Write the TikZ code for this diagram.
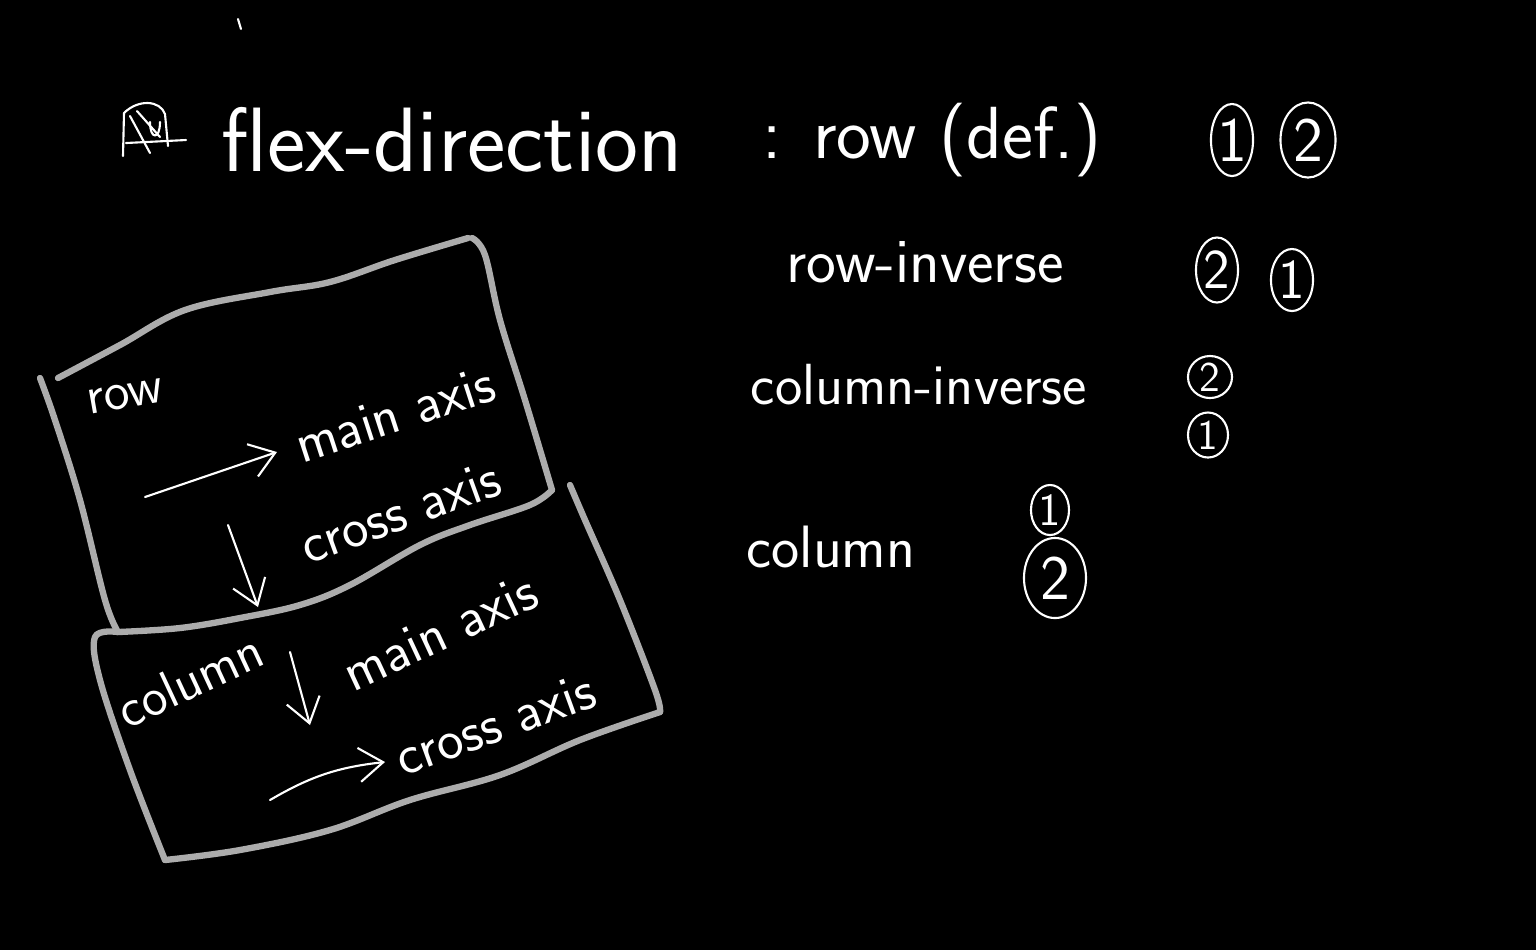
\documentclass[tikz,border=0pt]{standalone}
\usetikzlibrary{arrows.meta, shapes.geometric}
\tikzset{
	hand/.style={text=white, inner sep=0pt, font=\sffamily\fontsize{#1}{#1}\selectfont},
	penline/.style={draw=white, line width=0.6pt, line cap=round, line join=round},
	penarrow/.style={penline, -{Straight Barb[length=2.4mm, width=3.4mm]}},
	boxline/.style={draw=gray!65, line width=1.8pt, line cap=round, line join=round},
	numring/.style={ellipse, draw=white, line width=0.6pt, text=white, inner sep=0pt,
		font=\sffamily\fontsize{#1}{#1}\selectfont}
}

\begin{document}
\begin{tikzpicture}[x=0.01cm, y=-0.01cm]
	\fill[black] (0,0) rectangle (1536,950);
	\useasboundingbox (0,0) rectangle (1536,950);
	
	% stray pen mark and title mark
	\draw[penline] (238,19) -- (241,29);
	\draw[penline] (123,156) -- (124,113) .. controls (138,99) and (160,100) .. (165,114) -- (168,146);
	\draw[penline] (126,143) -- (186,140);
	\draw[penline] (130,116) -- (150,153);
	\draw[penline] (137,111) -- (160,137);
	\draw[penline] (150,122) .. controls (150,140) and (160,140) .. (160,122);
	
	% title line
	\node[hand=26] (title) at (452,140) {flex-direction};
	\node[hand=21] (modeRow) at (932,140) {: row (def.)};
	\node[numring=18, minimum width=0.38cm, minimum height=0.72cm] (rowA) at (1232,140) {1};
	\node[numring=18, minimum width=0.55cm, minimum height=0.75cm] (rowB) at (1308,140) {2};
	
	% other values
	\node[hand=18] (modeRowInv) at (925,262) {row-inverse};
	\node[numring=16, minimum width=0.42cm, minimum height=0.65cm] (rowInvB) at (1217,270) {2};
	\node[numring=16, minimum width=0.42cm, minimum height=0.62cm] (rowInvA) at (1292,280) {1};
	
	\node[hand=16.5] (modeColInv) at (919,385) {column-inverse};
	\node[numring=12, minimum width=0.44cm, minimum height=0.42cm] (colInvB) at (1210,377) {2};
	\node[numring=12, minimum width=0.40cm, minimum height=0.45cm] (colInvA) at (1208,435) {1};
	
	\node[hand=17] (modeCol) at (831,547) {column};
	\node[numring=13, minimum width=0.38cm, minimum height=0.50cm] (colA) at (1050,510) {1};
	\node[numring=18, minimum width=0.62cm, minimum height=0.80cm] (colB) at (1055,578) {2};
	
	% row box
	\draw[boxline] plot[smooth, tension=0.6] coordinates {(58,378) (120,345) (185,310) (270,292) (330,282) (395,260) (468,238)};
	\draw[boxline] plot[smooth, tension=0.6] coordinates {(472,238) (485,255) (500,320) (525,400) (552,490)};
	\draw[boxline] plot[smooth, tension=0.6] coordinates {(552,490) (530,505) (470,525) (420,545) (350,585) (300,605) (240,618) (180,628) (118,632)};
	\draw[boxline] plot[smooth, tension=0.6] coordinates {(118,632) (105,600) (80,500) (55,420) (40,378)};
	
	\node[hand=15, rotate=10] (rowName) at (125,396) {row};
	\coordinate (rowMainS) at (145,497);
	\coordinate (rowMainE) at (277,452);
	\draw[penarrow] (rowMainS) -- (rowMainE);
	\node[hand=16, rotate=18] (rowMain) at (395,414) {main axis};
	\coordinate (rowCrossS) at (228,525);
	\coordinate (rowCrossE) at (258,607);
	\draw[penarrow] (rowCrossS) -- (rowCrossE);
	\node[hand=16, rotate=20] (rowCross) at (400,512) {cross axis};
	
	% column box
	\draw[boxline] plot[smooth, tension=0.6] coordinates {(118,632) (95,637) (100,680) (130,770) (165,860)};
	\draw[boxline] plot[smooth, tension=0.6] coordinates {(165,860) (240,850) (330,830) (410,800) (500,775) (580,740) (660,712)};
	\draw[boxline] plot[smooth, tension=0.6] coordinates {(660,712) (655,690) (620,600) (585,520) (570,485)};
	
	\node[hand=15, rotate=25] (colName) at (190,680) {column};
	\coordinate (colMainS) at (290,652);
	\coordinate (colMainE) at (310,725);
	\draw[penarrow] (colMainS) -- (colMainE);
	\node[hand=16, rotate=25] (colMain) at (440,632) {main axis};
	\coordinate (colCrossS) at (270,800);
	\coordinate (colCrossE) at (385,762);
	\draw[penarrow] (colCrossS) to[bend left=12] (colCrossE);
	\node[hand=16, rotate=20] (colCross) at (495,724) {cross axis};
\end{tikzpicture}
\end{document}
